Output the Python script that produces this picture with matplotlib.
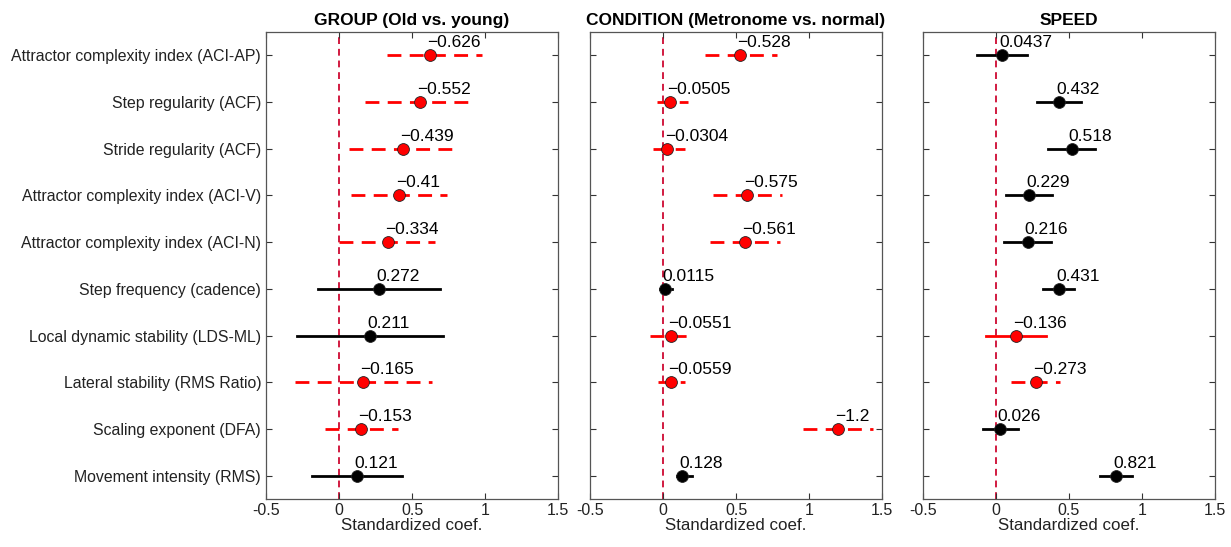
import numpy as np
import matplotlib
matplotlib.use('Agg')
import matplotlib.pyplot as plt

plt.rcParams['font.family'] = ['Liberation Sans', 'DejaVu Sans']

measures = ['Attractor complexity index (ACI-AP)', 'Step regularity (ACF)',
            'Stride regularity (ACF)', 'Attractor complexity index (ACI-V)',
            'Attractor complexity index (ACI-N)', 'Step frequency (cadence)',
            'Local dynamic stability (LDS-ML)', 'Lateral stability (RMS Ratio)',
            'Scaling exponent (DFA)', 'Movement intensity (RMS)']

titles = ['GROUP (Old vs. young)', 'CONDITION (Metronome vs. normal)', 'SPEED']

# standardized coefficients (signed, as labelled)
group_coef = [-0.626, -0.552, -0.439, -0.41, -0.334, 0.272, 0.211, -0.165, -0.153, 0.121]
cond_coef = [-0.528, -0.0505, -0.0304, -0.575, -0.561, 0.0115, -0.0551, -0.0559, -1.2, 0.128]
speed_coef = [0.0437, 0.432, 0.518, 0.229, 0.216, 0.431, -0.136, -0.273, 0.026, 0.821]

# interval bounds of the plotted (absolute) coefficient
group_lo = [0.326, 0.178, 0.068, 0.082, 0.002, -0.142, -0.286, -0.301, -0.096, -0.183]
group_hi = [0.982, 0.932, 0.810, 0.738, 0.658, 0.692, 0.710, 0.635, 0.402, 0.429]
cond_lo = [0.288, -0.043, -0.066, 0.340, 0.322, -0.021, -0.089, -0.032, 0.961, 0.094]
cond_hi = [0.779, 0.174, 0.151, 0.813, 0.801, 0.060, 0.212, 0.151, 1.440, 0.197]
speed_lo = [-0.132, 0.279, 0.354, 0.068, 0.055, 0.325, -0.070, 0.105, -0.090, 0.710]
speed_hi = [0.215, 0.582, 0.678, 0.386, 0.375, 0.535, 0.345, 0.440, 0.150, 0.930]

# 'd' = dashed (negative), 's' = solid
group_style = ['d', 'd', 'd', 'd', 'd', 's', 's', 'd', 'd', 's']
cond_style = ['d', 'd', 'd', 'd', 'd', 's', 'd', 'd', 'd', 's']
speed_style = ['s', 's', 's', 's', 's', 's', 's', 'd', 's', 's']

panels = [(group_coef, group_lo, group_hi, group_style),
          (cond_coef, cond_lo, cond_hi, cond_style),
          (speed_coef, speed_lo, speed_hi, speed_style)]

fig = plt.figure(figsize=(12.31, 5.47), dpi=100)
lefts = [266 / 1231, 590 / 1231, 923 / 1231]
rows = np.arange(1, len(measures) + 1)

for k, (coef, lo, hi, style) in enumerate(panels):
    ax = fig.add_axes([lefts[k], 48 / 547, 292 / 1231, 467 / 547])
    ax.axvline(0, color=(0.82, 0.1, 0.25), linewidth=1.4, linestyle=(0, (3.5, 2.5)), zorder=1)
    for i in range(len(measures)):
        c = coef[i]
        col = 'red' if c < 0 else 'black'
        ls = (0, (5, 3)) if style[i] == 'd' else '-'
        ax.plot([lo[i], hi[i]], [rows[i], rows[i]], color=col, linewidth=2.0,
                linestyle=ls, zorder=2)
        ax.plot(abs(c), rows[i], 'o', markersize=8.5, markerfacecolor=col,
                markeredgecolor='#222222', markeredgewidth=0.6, zorder=3)
        txt = ('\u2212' + f'{abs(c):g}') if c < 0 else f'{c:g}'
        ax.annotate(txt, (abs(c), rows[i]), xytext=(-2, 9), textcoords='offset points',
                    ha='left', va='center', fontsize=12.5, color='black', zorder=4)
    ax.set_xlim(-0.5, 1.5)
    ax.set_ylim(10.5, 0.5)
    ax.set_xticks([-0.5, 0, 0.5, 1, 1.5])
    ax.set_xticklabels(['-0.5', '0', '0.5', '1', '1.5'])
    ax.set_yticks(rows)
    if k == 0:
        ax.set_yticklabels(measures)
    else:
        ax.set_yticklabels([])
    ax.tick_params(axis='y', labelsize=11.4)
    ax.tick_params(axis='x', labelsize=11.5, pad=3)
    ax.tick_params(direction='in', top=True, right=True,
                   length=4, color='#333333', labelcolor='#222222')
    for s in ax.spines.values():
        s.set_color('#555555')
        s.set_linewidth(0.9)
    ax.set_title(titles[k], fontsize=12.5, fontweight='bold', pad=5)
    ax.set_xlabel('Standardized coef.', fontsize=12.2, color='#222222', labelpad=0)

fig.savefig('out.png', dpi=100)
